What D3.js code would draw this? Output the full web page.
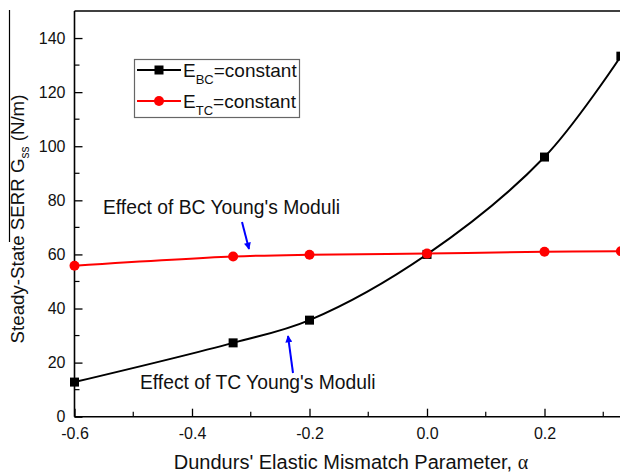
<!DOCTYPE html>
<html>
<head>
<meta charset="utf-8">
<script src="https://cdn.jsdelivr.net/npm/d3@7/dist/d3.min.js"></script>
<style>
html,body{margin:0;padding:0;background:#fff;}
svg{display:block;}
text{font-family:"Liberation Sans",Arial,sans-serif;fill:#111;}
</style>
</head>
<body>
<svg id="chart" width="620" height="472"></svg>
<script>
const alphaValues = [-0.6, -0.33, -0.2, 0.0, 0.2, 0.33];
const ebcConstant = [12.8, 27.3, 35.7, 60.0, 96.0, 133.3];
const etcConstant = [55.8, 59.2, 59.9, 60.3, 61.0, 61.2];
const seriesNames = ["BC", "TC"];
const xTicks = [-0.6, -0.4, -0.2, 0.0, 0.2];
const yTicks = [0, 20, 40, 60, 80, 100, 120, 140];

(function(){
const svg = d3.select("#chart");
const mLeft = 74.5, mTop = 11, mBottom = 416.7, mRight = 662;
const x = d3.scaleLinear().domain([-0.6, 0.4]).range([mLeft, mRight]);
const y = d3.scaleLinear().domain([0, 150]).range([mBottom, mTop]);

// stray scan line at far left
svg.append("line").attr("x1", 9.5).attr("x2", 9.5).attr("y1", 10).attr("y2", 242)
  .attr("stroke", "#000").attr("stroke-width", 1.2);

const g = svg.append("g");
g.append("line").attr("x1", mLeft).attr("x2", 640).attr("y1", mTop).attr("y2", mTop)
  .attr("stroke", "#000").attr("stroke-width", 1.6);

// y axis
const yAxis = d3.axisLeft(y).tickValues(yTicks).tickSize(-8).tickPadding(8).tickFormat(d3.format("d"));
const yg = g.append("g").attr("transform", `translate(${mLeft},0)`).call(yAxis);
yg.select(".domain").remove();
yg.selectAll("text").style("font-size", "16px").attr("x", -9);
yg.selectAll("line").attr("stroke-width", 1.3);
const yMinor = d3.range(10, 150, 20);
g.selectAll(".yminor").data(yMinor).enter().append("line")
  .attr("x1", mLeft).attr("x2", mLeft + 5).attr("y1", d => y(d)).attr("y2", d => y(d))
  .attr("stroke", "#000").attr("stroke-width", 1.2);

// x axis
const fmt = d3.format(".1f");
const xAxis = d3.axisBottom(x).tickValues(xTicks).tickSize(-8).tickPadding(12)
  .tickFormat(d => fmt(d).replace("\u2212", "-"));
const xg = g.append("g").attr("transform", `translate(0,${mBottom})`).call(xAxis);
xg.select(".domain").remove();
xg.selectAll("text").style("font-size", "16px").attr("y", 10.5).attr("dy", "0.71em");
xg.selectAll("line").attr("stroke-width", 1.3);
const xMinor = [-0.5, -0.3, -0.1, 0.1, 0.3];
g.selectAll(".xminor").data(xMinor).enter().append("line")
  .attr("x1", d => x(d)).attr("x2", d => x(d)).attr("y1", mBottom).attr("y2", mBottom - 5)
  .attr("stroke", "#000").attr("stroke-width", 1.2);

g.append("line").attr("x1", mLeft).attr("x2", mLeft).attr("y1", mTop).attr("y2", mBottom)
  .attr("stroke", "#000").attr("stroke-width", 1.6);
g.append("line").attr("x1", mLeft).attr("x2", 640).attr("y1", mBottom).attr("y2", mBottom)
  .attr("stroke", "#000").attr("stroke-width", 1.6);

// lines
const line = d3.line().x(d => x(d[0])).y(d => y(d[1])).curve(d3.curveCatmullRom.alpha(0.5));
const bcData = alphaValues.map((a, i) => [a, ebcConstant[i]]);
const tcData = alphaValues.map((a, i) => [a, etcConstant[i]]);

svg.append("path").datum(bcData).attr("d", line).attr("fill", "none").attr("stroke", "#000").attr("stroke-width", 2);
svg.append("path").datum(tcData).attr("d", line).attr("fill", "none").attr("stroke", "#f00").attr("stroke-width", 2);

svg.selectAll(".sq").data(bcData).enter().append("rect")
  .attr("x", d => x(d[0]) - 4.5).attr("y", d => y(d[1]) - 4.5).attr("width", 9).attr("height", 9).attr("fill", "#000");
svg.selectAll(".ci").data(tcData).enter().append("circle")
  .attr("cx", d => x(d[0])).attr("cy", d => y(d[1])).attr("r", 5).attr("fill", "#f00");

// legend
const lg = svg.append("g");
lg.append("rect").attr("x", 134.5).attr("y", 59.5).attr("width", 165).attr("height", 58)
  .attr("fill", "#fff").attr("stroke", "#666").attr("stroke-width", 1.2);
const legendRows = [
  {sub: seriesNames[0], color: "#000", shape: "square", cy: 70},
  {sub: seriesNames[1], color: "#f00", shape: "circle", cy: 101}
];
legendRows.forEach(r => {
  lg.append("line").attr("x1", 137).attr("x2", 181).attr("y1", r.cy).attr("y2", r.cy)
    .attr("stroke", r.color).attr("stroke-width", 1.8);
  if (r.shape === "square") {
    lg.append("rect").attr("x", 154.5).attr("y", r.cy - 4.5).attr("width", 9).attr("height", 9).attr("fill", r.color);
  } else {
    lg.append("circle").attr("cx", 159).attr("cy", r.cy).attr("r", 5).attr("fill", r.color);
  }
  const t = lg.append("text").attr("x", 183).attr("y", r.cy + 7).style("font-size", "19px");
  t.append("tspan").text("E");
  t.append("tspan").attr("dy", 7).style("font-size", "13px").text(r.sub);
  t.append("tspan").attr("dy", -7).text("=constant");
});

// annotations
svg.append("defs").append("marker").attr("id", "arr").attr("viewBox", "0 0 10 10")
  .attr("refX", 9).attr("refY", 5).attr("markerWidth", 4).attr("markerHeight", 3.5)
  .attr("orient", "auto").attr("markerUnits", "strokeWidth")
  .append("path").attr("d", "M0,0 L10,5 L0,10 z").attr("fill", "#00f");

svg.append("text").attr("x", 103).attr("y", 214).style("font-size", "19.3px").text("Effect of BC Young's Moduli");
svg.append("line").attr("x1", 242).attr("y1", 222).attr("x2", 249).attr("y2", 249)
  .attr("stroke", "#00f").attr("stroke-width", 2).attr("marker-end", "url(#arr)");

svg.append("text").attr("x", 140).attr("y", 389).style("font-size", "19.3px").text("Effect of TC Young's Moduli");
svg.append("line").attr("x1", 293).attr("y1", 373).attr("x2", 288).attr("y2", 336)
  .attr("stroke", "#00f").attr("stroke-width", 2).attr("marker-end", "url(#arr)");

// axis titles
const xt = svg.append("text").attr("x", 351).attr("y", 469).attr("text-anchor", "middle").style("font-size", "20px");
xt.append("tspan").text("Dundurs' Elastic Mismatch Parameter, ");
xt.append("tspan").style("font-family", "'Liberation Serif',serif").text("α");

const yt = svg.append("text").attr("transform", "translate(24,219) rotate(-90)").attr("text-anchor", "middle").style("font-size", "18.7px");
yt.append("tspan").text("Steady-State SERR G");
yt.append("tspan").attr("dy", 5).style("font-size", "12px").text("ss");
yt.append("tspan").attr("dy", -5).text(" (N/m)");
})();
</script>
</body>
</html>
